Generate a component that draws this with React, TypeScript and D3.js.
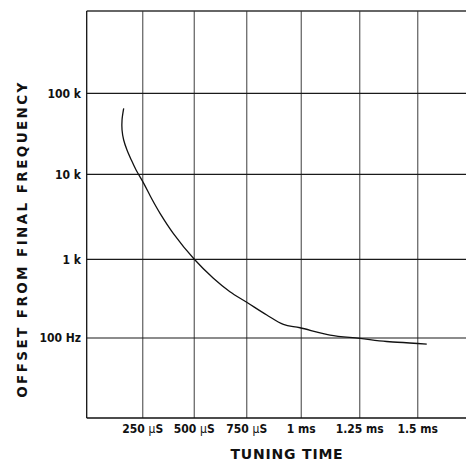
import React from "react";
import * as d3 from "d3";

// Tuning time (µs) and offset from final frequency (Hz)
const timeUs = [158, 150, 150, 158, 174, 195, 218, 255, 295, 334, 398, 500, 591, 670, 750, 842, 918, 994, 1123, 1251, 1366, 1539];
const offsetHz = [65000, 46800, 35200, 26500, 19950, 15000, 11300, 7830, 5080, 3470, 2020, 1000, 574, 387, 285, 196, 149, 135, 109, 99, 90.4, 84];

const xTickValues = [250, 500, 750, 1000, 1250, 1500];
const xTickLabels = [
  ["250 ", "µ", "S"],
  ["500 ", "µ", "S"],
  ["750 ", "µ", "S"],
  ["1 ms", "", ""],
  ["1.25 ms", "", ""],
  ["1.5 ms", "", ""],
];
const yTickValues = [100, 1000, 10000, 100000];
const yTickLabels = ["100 Hz", "1 k", "10 k", "100 k"];

const xTitle = "TUNING TIME";
const yTitle = "OFFSET FROM FINAL FREQUENCY";

const W = 466;
const H = 462;
const left = 86.7;
const right = 466;
const top = 11;
const bottom = 418;

export default function App() {
  // piecewise-linear time axis (the printed grid is slightly uneven)
  const x = d3
    .scaleLinear()
    .domain([-21, 250, 500, 750, 1000, 1250, 1500, 1708])
    .range([left, 142.7, 194.3, 246.7, 301.3, 359.7, 417.7, right]);
  const y = d3
    .scaleLog()
    .domain([10, 100, 1000, 10000, 100000, 1000000])
    .range([bottom, 338, 259.3, 174.3, 93.3, top]);

  const pts: [number, number][] = timeUs.map((t, i) => [x(t), y(offsetHz[i])]);
  const line = d3.line().curve(d3.curveCatmullRom.alpha(0.5))(pts) || "";

  const tickFont = "'DejaVu Sans Condensed', 'DejaVu Sans', sans-serif";
  const titleFont = "'DejaVu Sans', sans-serif";

  return (
    <svg width={W} height={H} style={{ position: "absolute", left: 0, top: 0, background: "#fff" }}>
      <rect x={0} y={0} width={W} height={H} fill="#fff" />
      {/* vertical grid */}
      {xTickValues.map((v) => (
        <line key={"vx" + v} x1={x(v)} x2={x(v)} y1={top} y2={bottom} stroke="#747474" strokeWidth={1.4} />
      ))}
      {/* horizontal grid */}
      {yTickValues.map((v) => (
        <line key={"hy" + v} x1={left} x2={right} y1={y(v)} y2={y(v)} stroke="#1a1a1a" strokeWidth={1.2} />
      ))}
      {/* frame */}
      <line x1={left} x2={right} y1={top} y2={top} stroke="#333" strokeWidth={1.3} />
      <line x1={left} x2={right} y1={bottom} y2={bottom} stroke="#111" strokeWidth={1.3} />
      <line x1={left} x2={left} y1={top} y2={bottom} stroke="#111" strokeWidth={1.3} />
      {/* curve */}
      <path d={line} fill="none" stroke="#111" strokeWidth={1.3} />
      {/* y tick labels */}
      {yTickValues.map((v, i) => (
        <text
          key={"yl" + v}
          x={81}
          y={y(v)}
          dy="0.36em"
          textAnchor="end"
          fontFamily={tickFont}
          fontWeight="bold"
          fontSize={12}
          fill="#111"
        >
          {yTickLabels[i]}
        </text>
      ))}
      {/* x tick labels */}
      {xTickValues.map((v, i) => (
        <text
          key={"xl" + v}
          x={x(v)}
          y={433}
          textAnchor="middle"
          fontFamily={tickFont}
          fontWeight="bold"
          fontSize={12}
          fill="#111"
        >
          {xTickLabels[i][0]}
          {xTickLabels[i][1] ? <tspan fontWeight="normal">{xTickLabels[i][1]}</tspan> : null}
          {xTickLabels[i][2]}
        </text>
      ))}
      {/* titles */}
      <text
        x={287}
        y={459}
        textAnchor="middle"
        fontFamily={titleFont}
        fontWeight="bold"
        fontSize={14}
        letterSpacing={0.8}
        fill="#111"
      >
        {xTitle}
      </text>
      <text
        transform={`translate(26.5,239) rotate(-90)`}
        textAnchor="middle"
        fontFamily={titleFont}
        fontWeight="bold"
        fontSize={13.5}
        letterSpacing={2.4}
        fill="#111"
      >
        {yTitle}
      </text>
    </svg>
  );
}
